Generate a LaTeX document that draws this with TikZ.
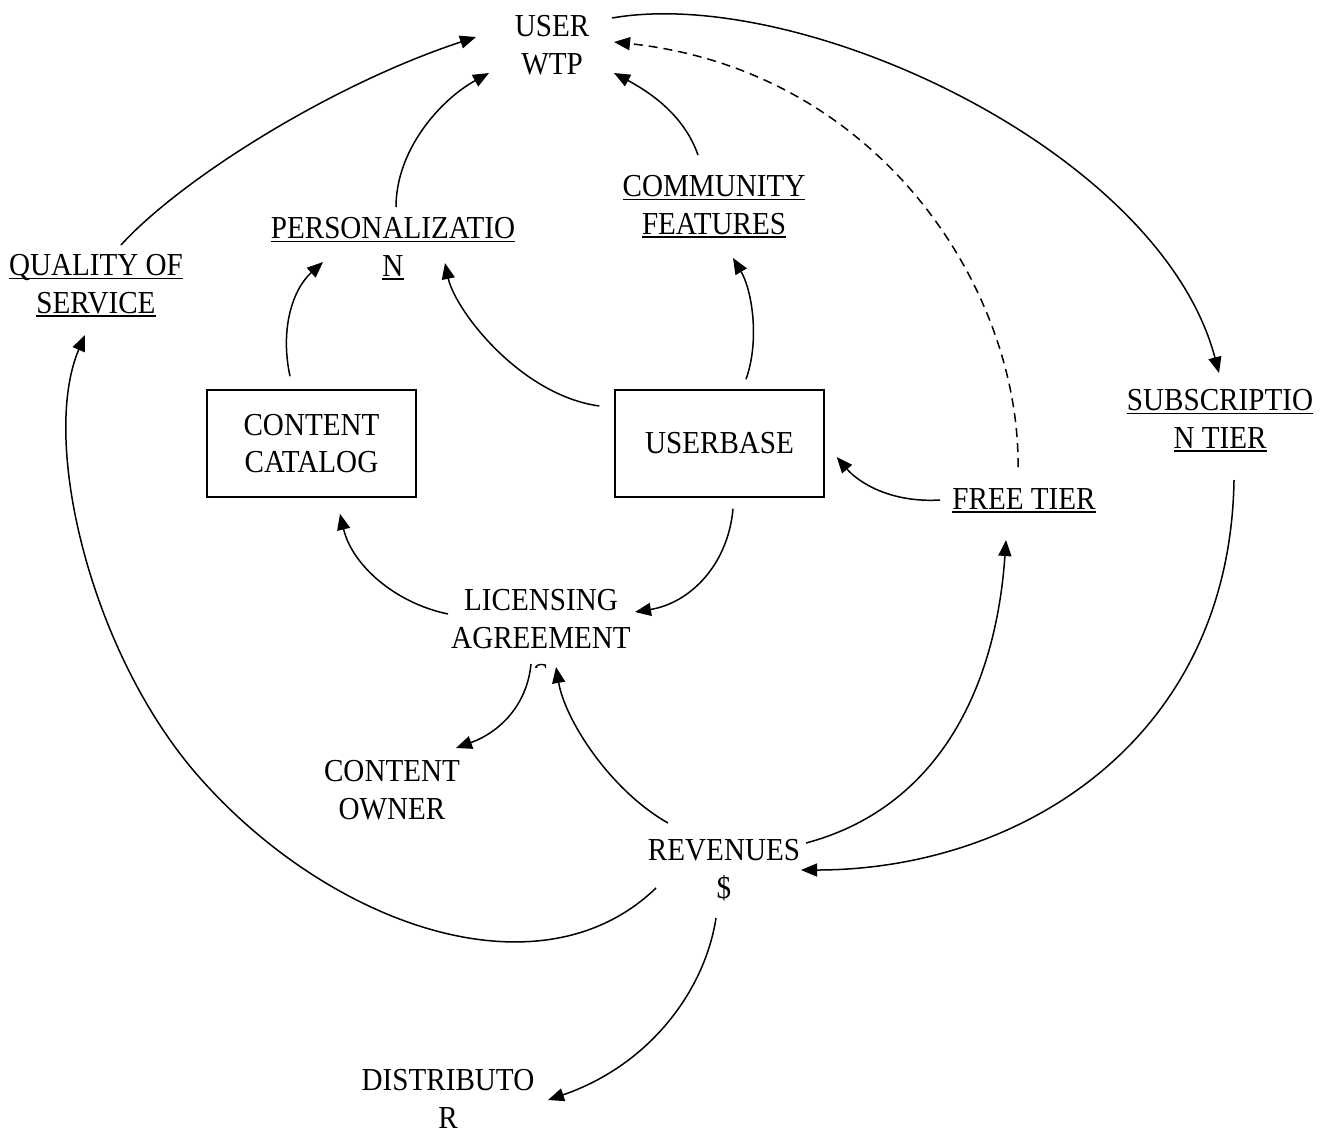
\documentclass[tikz,border=0pt]{standalone}
\usepackage{fontspec}
\setmainfont{Liberation Serif}[FakeStretch=0.91]
\usetikzlibrary{arrows.meta,calc}
\newcommand\uln[1]{\setbox0\hbox{#1}\rlap{\rule[-3.6bp]{\wd0}{1.4bp}}\box0}
\tikzset{
  lab/.style={font=\fontsize{32bp}{37.5bp}\selectfont, align=center, inner sep=0pt, anchor=base},
  boxn/.style={draw, line width=1.5bp, minimum width=209bp, minimum height=107bp, inner sep=0pt,
    font=\fontsize{32bp}{37.5bp}\selectfont, align=center},
  arr/.style={line width=1.5bp, -{Triangle[length=16bp,width=13bp]}},
  dsh/.style={arr, dash pattern=on 9bp off 6bp}
}
\begin{document}
\begin{tikzpicture}[x=1bp,y=-1bp]
\useasboundingbox (0,0) rectangle (1329,1131);
% nodes (anchored at the baseline of their last line)
\node[lab] (wtp) at (552,74) {USER\\WTP};
\node[lab] (qos) at (96,313) {\uln{QUALITY OF}\\\uln{SERVICE}};
\node[lab] (pers) at (393,276) {\uln{PERSONALIZATIO}\\\uln{N}};
\node[lab] (comm) at (714,234) {\uln{COMMUNITY}\\\uln{FEATURES}};
\node[boxn] (cat) at (311.5,443.5) {CONTENT\\CATALOG};
\node[boxn] (ub) at (719.5,443.5) {\raisebox{-3bp}{USERBASE}};
\node[lab] (free) at (1024,509) {\uln{FREE TIER}};
\node[lab] (subs) at (1220,448) {\uln{SUBSCRIPTIO}\\\uln{N TIER}};
\begin{scope}
\clip (380,560) rectangle (700,667);
\node[lab] (lic) at (541,685.5) {LICENSING\\AGREEMENT\\S};
\end{scope}
\node[lab] (own) at (392,819) {CONTENT\\OWNER};
\node[lab] (rev) at (724,898) {REVENUES\\\$};
\node[lab] (dist) at (448,1128) {DISTRIBUTO\\R};
\coordinate (qmid) at (200,778);
% connectors
\draw[arr] ($(qos.base)+(25,-68)$) .. controls (180,180) and (330,85) .. ($(wtp.base)+(-76,-37)$);
\draw[arr] ($(pers.base)+(3,-69)$) .. controls (396,150) and (440,100) .. ($(wtp.base)+(-63,-1)$);
\draw[arr] ($(comm.base)+(-16,-79)$) .. controls (685,118) and (655,95) .. ($(wtp.base)+(62,-1)$);
\draw[arr] ($(wtp.base)+(60,-56)$) .. controls (800,-15) and (1160,150) .. ($(subs.base)+(-1,-75)$);
\draw[dsh] ($(free.base)+(-6,-42)$) .. controls (1020,290) and (880,70) .. ($(wtp.base)+(62,-32)$);
\draw[arr] ($(cat.north)+(-21.5,-13)$) .. controls (280,330) and (292,290) .. ($(pers.base)+(-70,-14)$);
\draw[arr] ($(ub.west)+(-15,-37.5)$) .. controls (520,395) and (455,310) .. ($(pers.base)+(52,-13)$);
\draw[arr] ($(ub.north)+(26.5,-10)$) .. controls (760,340) and (752,290) .. ($(comm.base)+(19,24)$);
\draw[arr] ($(free.base)+(-84,-9)$) .. controls (890,503) and (858,482) .. ($(ub.east)+(12,13.5)$);
\draw[arr] ($(ub.south)+(13.5,11)$) .. controls (728,565) and (690,603) .. ($(lic.base)+(94,-73.5)$);
\draw[arr] ($(lic.base)+(-93,-71.5)$) .. controls (395,603) and (352,565) .. ($(cat.south)+(28.5,16)$);
\draw[arr] ($(lic.base)+(-10,-21.5)$) .. controls (527,705) and (500,732) .. ($(own.base)+(64,-71)$);
\draw[arr] ($(rev.base)+(-56,-75)$) .. controls (610,790) and (565,720) .. ($(lic.base)+(15,-18.5)$);
\draw[arr] ($(rev.base)+(82,-55)$) .. controls (930,810) and (995,700) .. ($(free.base)+(-18,31)$);
\draw[arr] ($(subs.base)+(14,32)$) .. controls (1230,740) and (1020,870) .. ($(rev.base)+(77,-28)$);
\draw[arr] ($(rev.base)+(-68,-10)$) .. controls (540,1000) and (330,925) .. (qmid)
  .. controls (90,654) and (40,440) .. ($(qos.base)+(-11,22)$);
\draw[arr] ($(rev.base)+(-8,20)$) .. controls (705,990) and (650,1065) .. ($(dist.base)+(100,-28)$);
\end{tikzpicture}
\end{document}
